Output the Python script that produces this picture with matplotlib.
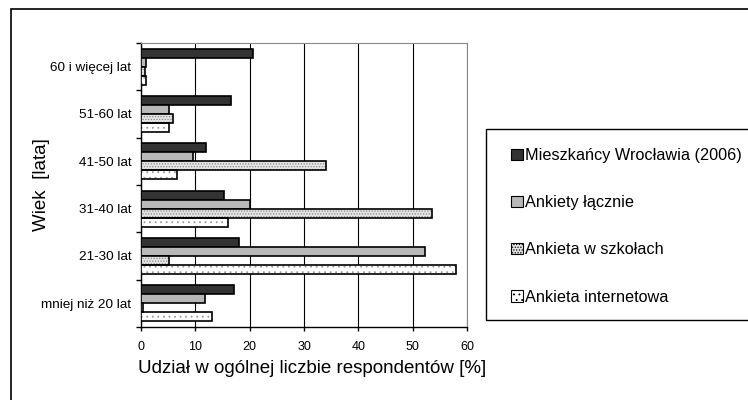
import numpy as np
import matplotlib
matplotlib.use("Agg")
import matplotlib.pyplot as plt
from matplotlib.patches import Rectangle, Patch

plt.rcParams["font.family"] = ["Liberation Sans", "DejaVu Sans"]

# ---------------------------------------------------------------------------
# Data
# ---------------------------------------------------------------------------
categories = ["mniej niż 20 lat", "21-30 lat", "31-40 lat", "41-50 lat",
              "51-60 lat", "60 i więcej lat"]
series_names = ["Mieszkańcy Wrocławia (2006)", "Ankiety łącznie",
                "Ankieta w szkołach", "Ankieta internetowa"]
mieszkancy = [17.1, 18.1, 15.3, 12.0, 16.5, 20.6]
lacznie = [11.7, 52.2, 20.1, 9.6, 5.2, 0.9]
szkoly = [0.3, 5.2, 53.6, 34.0, 5.8, 0.7]
internet = [13.1, 58.0, 16.0, 6.7, 5.1, 0.9]
x_ticks = [0, 10, 20, 30, 40, 50, 60]

# ---------------------------------------------------------------------------
# Figure
# ---------------------------------------------------------------------------
fig = plt.figure(figsize=(7.48, 4.0), dpi=100)
ax = fig.add_axes([141 / 748, 1 - 327 / 400, 326 / 748, 284 / 400])

# outer frame (only top and left edges visible in the reference)
fig.patches.append(Rectangle((11 / 748, -0.1), 1.1, 0.1 + 1 - 9 / 400,
                             transform=fig.transFigure, fill=False,
                             edgecolor="black", linewidth=1.2, zorder=0))

y = np.arange(len(categories))
h = 0.19
styles = [
    dict(color="#333333", hatch=None, hatch_col=None),
    dict(color="#b8b8b8", hatch=None, hatch_col=None),
    dict(color="#e4e4e4", hatch="......", hatch_col="#8a8a8a"),
    dict(color="white", hatch="...", hatch_col="#9a9a9a"),
]
all_vals = [mieszkancy, lacznie, szkoly, internet]
offsets = [1.5, 0.5, -0.5, -1.5]

plt.rcParams["hatch.linewidth"] = 0.6
for vals, st, off in zip(all_vals, styles, offsets):
    pos = y + off * h
    if st["hatch"]:
        ax.barh(pos, vals, height=h, color=st["color"], hatch=st["hatch"],
                edgecolor=st["hatch_col"], linewidth=0, zorder=3)
        ax.barh(pos, vals, height=h, fill=False, edgecolor="black",
                linewidth=1.2, zorder=4)
    else:
        ax.barh(pos, vals, height=h, color=st["color"], edgecolor="black",
                linewidth=1.2, zorder=3)

ax.set_xlim(0, 60)
ax.set_ylim(-0.5, len(categories) - 0.5)
ax.set_xticks(x_ticks)
ax.set_xticklabels([str(t) for t in x_ticks], fontsize=9)
ax.set_yticks(y)
ax.set_yticklabels(categories, fontsize=9.7)
ax.tick_params(axis="y", which="major", length=0, pad=7)
ax.set_yticks(np.arange(-0.5, len(categories)), minor=True)
ax.tick_params(axis="y", which="minor", length=3.5, direction="out", width=1)
ax.tick_params(axis="x", length=3, direction="out", width=1, pad=7)

ax.xaxis.grid(True, color="black", linewidth=0.8, zorder=0)
ax.set_axisbelow(True)
for side in ["top", "right"]:
    ax.spines[side].set_color("#888888")
for side in ["left", "bottom"]:
    ax.spines[side].set_linewidth(1.0)

ax.set_xlabel("Udział w ogólnej liczbie respondentów [%]", fontsize=13.5)
ax.xaxis.label.set_horizontalalignment("left")
ax.xaxis.set_label_coords(-0.01, -0.115)
ax.set_ylabel("Wiek  [lata]", fontsize=13.5)
ax.yaxis.set_label_coords(-(141 - 50) / 326, 0.5)

# legend
fig.patches.append(Rectangle((486 / 748, 1 - 320 / 400), 0.4, 191 / 400,
                             transform=fig.transFigure, fill=False,
                             edgecolor="black", linewidth=1.0, zorder=1))
handles = [Patch(facecolor=st["color"], edgecolor="black",
                 hatch=st["hatch"], linewidth=0.8) for st in styles]
leg = fig.legend(handles, series_names, loc="upper left",
                 bbox_to_anchor=(503 / 748, 1 - 140 / 400), frameon=False,
                 fontsize=11.7, handlelength=0.7, handleheight=0.7,
                 handletextpad=0.15, labelspacing=1.98, borderpad=0)

fig.savefig("out.png", dpi=100)
